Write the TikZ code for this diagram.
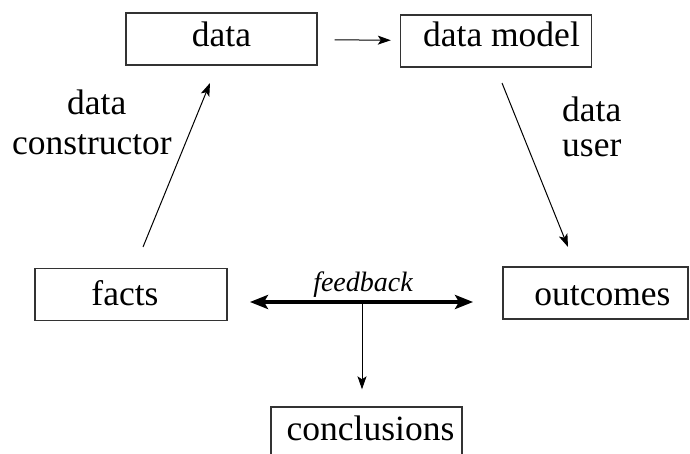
\documentclass[tikz,border=0pt]{standalone}
\usepackage{fontspec}
\setmainfont{Liberation Serif}
\usetikzlibrary{arrows.meta}
\begin{document}
\begin{tikzpicture}[x=1pt,y=-1pt,
  box/.style={draw=black!80, line width=1.4pt, minimum height=52pt, inner sep=0pt,
    text depth=0pt, font=\fontsize{35.5}{40}\selectfont},
  lbl/.style={font=\fontsize{35.5}{40}\selectfont, inner sep=0pt, anchor=base west},
  conn/.style={line width=1pt, -{Stealth[length=13pt,width=9pt,inset=3pt]}},
  fb/.style={line width=4.5pt, {Stealth[length=18pt,width=14pt,inset=4pt]}-{Stealth[length=18pt,width=14pt,inset=4pt]}},
]
\useasboundingbox (0,0) rectangle (690,454);
% boxes
\node[box, minimum width=191pt, text height=16pt] (data)  at (221.5,39)  {data};
\node[box, minimum width=191pt, text height=12pt] (model) at (496,41) {\hspace*{11pt}data model};
\node[box, minimum width=192pt, text height=22pt] (facts) at (131,294.5) {facts\hspace*{12pt}};
\node[box, minimum width=185pt, text height=24pt] (out)   at (595.5,293) {\hspace*{14pt}outcomes};
\node[box, minimum width=191pt, text height=14pt] (concl) at (366.5,433) {\hspace*{8pt}conclusions};
% connectors
\draw[conn, shorten <=17pt, shorten >=9pt] (data) -- (model);
\coordinate (c1) at (143,247);
\coordinate (c2) at (210,83);
\draw[conn] (c1) -- (c2);
\coordinate (u1) at (502,83);
\coordinate (u2) at (568,247);
\draw[conn] (u1) -- (u2);
\coordinate (fbL) at (250,302);
\coordinate (fbR) at (473,302);
\coordinate (fbM) at (362,302);
\draw[fb] (fbL) -- (fbR);
\draw[conn, shorten >=17pt] (fbM) -- (fbM |- concl.north);
% labels
\node[font=\fontsize{28}{32}\selectfont\itshape, inner sep=0pt, anchor=base] (fbl) at (363,291) {feedback};
\node[lbl] (l1) at (67,115) {data};
\node[lbl, anchor=base east] (l2) at (172,155) {constructor};
\node[lbl] (l3) at (562,122) {data};
\node[lbl] (l4) at (562,157) {user};
\end{tikzpicture}
\end{document}
